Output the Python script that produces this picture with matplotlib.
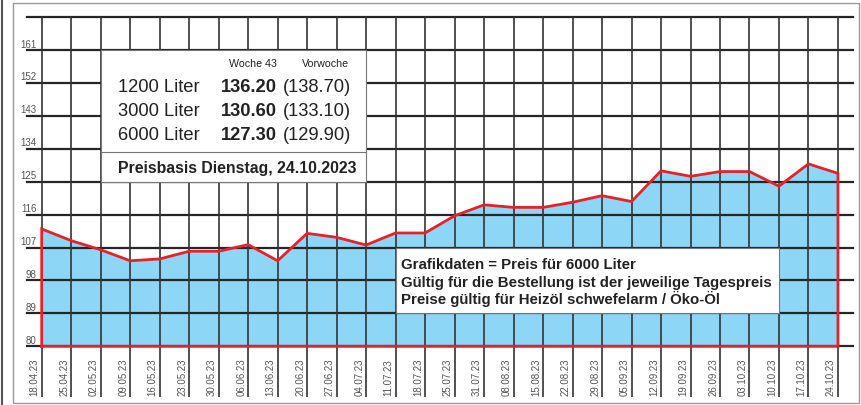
import matplotlib
matplotlib.use("Agg")
import matplotlib.pyplot as plt
from matplotlib import font_manager
from matplotlib.patches import Rectangle
from matplotlib.lines import Line2D

# ---------------- data ----------------
dates = ["18.04.23", "25.04.23", "02.05.23", "09.05.23", "16.05.23", "23.05.23",
         "30.05.23", "06.06.23", "13.06.23", "20.06.23", "27.06.23", "04.07.23",
         "11.07.23", "18.07.23", "25.07.23", "31.07.23", "08.08.23", "15.08.23",
         "22.08.23", "29.08.23", "05.09.23", "12.09.23", "19.09.23", "26.09.23",
         "03.10.23", "10.10.23", "17.10.23", "24.10.23"]
prices = [112.1, 108.9, 106.4, 103.4, 103.9, 106.0, 106.0, 107.8, 103.4, 110.9,
          109.8, 107.7, 111.0, 111.0, 115.7, 118.7, 118.0, 118.0, 119.4, 121.2,
          119.6, 128.0, 126.5, 127.8, 127.8, 123.8, 129.9, 127.3]
y_ticks = [80, 89, 98, 107, 116, 125, 134, 143, 152, 161, 170]
y_labels = ["80", "89", "98", "107", "116", "125", "134", "143", "152", "161", ""]

volumes = ["1200 Liter", "3000 Liter", "6000 Liter"]
this_week = ["136.20", "130.60", "127.30"]
last_week = ["(138.70)", "(133.10)", "(129.90)"]
col_heads = ["Woche 43", "Vorwoche"]
basis_text = "Preisbasis Dienstag, 24.10.2023"
note_lines = ["Grafikdaten = Preis für 6000 Liter",
              "Gültig für die Bestellung ist der jeweilige Tagespreis",
              "Preise gültig für Heizöl schwefelarm / Öko-Öl"]

# ---------------- fonts ----------------
avail = {f.name for f in font_manager.fontManager.ttflist}
REG = "Liberation Sans" if "Liberation Sans" in avail else "DejaVu Sans"

# ---------------- colours ----------------
FILL = "#8ed6f6"
RED = "#e8202a"
GRID = "#262626"
VGRID = "#333333"
TXT = "#222222"
GRAYTXT = "#555555"
FRAME = "#9a9a9a"

W, H = 861, 406
fig = plt.figure(figsize=(W / 100, H / 100), dpi=100)
fig.patch.set_facecolor("white")

# axes placement (pixel geometry)
x_left_px, x_right_px = 26.96, 852.7
y_top_px, y_bot_px = 18.3, 398.0
ax = fig.add_axes([x_left_px / W, 1 - y_bot_px / H,
                   (x_right_px - x_left_px) / W, (y_bot_px - y_top_px) / H])
n = len(dates)
ax.set_xlim(-0.5, n - 0.5)
ax.set_ylim(66.13, 170)
ax.axis("off")

xs = list(range(n))
base = 80

# blue area
ax.fill_between(xs, base, prices, color=FILL, linewidth=0, zorder=1)

# grid
for yv in y_ticks:
    ax.axhline(yv, color=GRID, lw=1.6, zorder=2, clip_on=False)
ax.vlines(xs, 66.13, 170, color=VGRID, lw=1.2, zorder=2)

# red outline
ax.plot([0] + xs + [n - 1, 0], [base] + prices + [base, base],
        color=RED, lw=2.0, zorder=3, solid_joinstyle="miter", clip_on=False)

# y labels
for yv, lab in zip(y_ticks, y_labels):
    ax.annotate(lab, (-0.17, yv), xytext=(0, 2.6), textcoords="offset points",
                ha="right", va="baseline", fontsize=7.0, color=GRAYTXT,
                family=REG, zorder=5)

# date labels
for i, d in enumerate(dates):
    ax.text(i - 0.234, 66.7, d, rotation=90, ha="center", va="bottom",
            fontsize=7.0, color=GRAYTXT, family=REG, zorder=5)

# ---------------- top info box ----------------
bx0, bx1, by0, by1 = 2.0, 11.0, 125, 161
ax.add_patch(Rectangle((bx0, by0), bx1 - bx0, by1 - by0, facecolor="white",
                       edgecolor="#777777", lw=0.8, zorder=6))
ax.plot([bx0, bx1], [133.2, 133.2], color="#777777", lw=0.8, zorder=7)

ax.text(7.15, 156.76, col_heads[0], ha="center", va="baseline", fontsize=7.7,
        family=REG, color=TXT, zorder=8)
ax.text(9.62, 156.76, col_heads[1], ha="center", va="baseline", fontsize=7.7,
        family=REG, color=TXT, zorder=8)
row_base = [149.92, 143.36, 136.71]
for v, a, b, yb in zip(volumes, this_week, last_week, row_base):
    ax.text(2.60, yb, v, ha="left", va="baseline", fontsize=13.2, family=REG,
            color=TXT, zorder=8)
    ax.text(6.07, yb, a, ha="left", va="baseline", fontsize=13.2, family=REG,
            weight="bold", color=TXT, zorder=8)
    ax.text(8.17, yb, b, ha="left", va="baseline", fontsize=13.2, family=REG,
            color=TXT, zorder=8)
ax.text(2.60, 127.6, basis_text, ha="left", va="baseline", fontsize=11.4,
        family=REG, weight="bold", color=TXT, zorder=8)

# ---------------- lower note box ----------------
nx0, nx1, ny0, ny1 = 12.0, 25.0, 89, 107
ax.add_patch(Rectangle((nx0, ny0), nx1 - nx0, ny1 - ny0, facecolor="white",
                       edgecolor="#777777", lw=0.8, zorder=6))
for line, yb in zip(note_lines, [101.42, 96.58, 91.85]):
    ax.text(12.17, yb, line, ha="left", va="baseline", fontsize=10.85,
            family=REG, weight="bold", color=TXT, zorder=8)

# ---------------- outer frame ----------------
fx0, fx1, fy0, fy1 = 12.7, 859.0, 4.0, 403.5
fig.add_artist(Rectangle((fx0 / W, 1 - fy1 / H), (fx1 - fx0) / W, (fy1 - fy0) / H,
                         transform=fig.transFigure, facecolor="none",
                         edgecolor=FRAME, lw=1.0))
fig.add_artist(Line2D([1.5 / W, 1.5 / W], [0, 1], transform=fig.transFigure,
                      color="#555555", lw=1.5))

fig.savefig("out.png", dpi=100, facecolor="white")
